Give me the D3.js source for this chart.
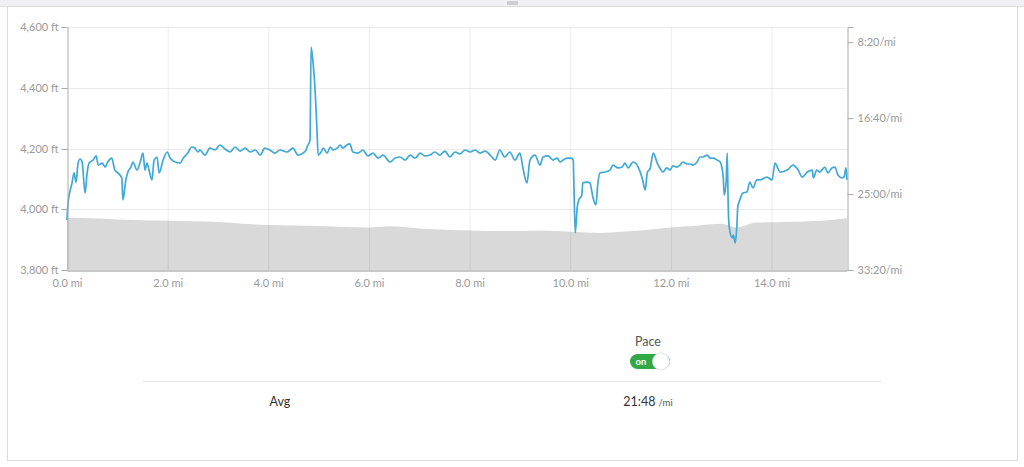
<!DOCTYPE html>
<html><head><meta charset="utf-8">
<script src="https://cdn.jsdelivr.net/npm/d3@7/dist/d3.min.js"></script>
<style>
body{margin:0;background:#fff;}
svg text{font-family:Lato,"Open Sans",sans-serif;}
</style>
</head><body>
<svg id="c" width="1024" height="467"></svg>
<script>
// ---- data ----
const distance = [0.00,0.02,0.10,0.14,0.18,0.22,0.26,0.30,0.36,0.40,0.44,0.52,0.58,0.62,0.70,0.76,0.81,0.89,0.95,1.01,1.09,1.11,1.17,1.21,1.27,1.31,1.39,1.45,1.51,1.55,1.59,1.63,1.69,1.73,1.79,1.83,1.91,1.99,2.05,2.15,2.25,2.31,2.40,2.48,2.54,2.60,2.64,2.74,2.84,2.94,3.04,3.14,3.24,3.34,3.44,3.54,3.64,3.74,3.84,3.93,4.03,4.13,4.23,4.37,4.49,4.59,4.69,4.75,4.77,4.83,4.85,4.89,4.93,4.97,4.99,5.05,5.09,5.17,5.23,5.29,5.37,5.43,5.48,5.56,5.62,5.68,5.78,5.88,5.98,6.08,6.18,6.28,6.42,6.52,6.62,6.72,6.82,6.92,7.02,7.11,7.21,7.31,7.41,7.51,7.61,7.71,7.81,7.91,8.01,8.11,8.21,8.31,8.41,8.51,8.60,8.70,8.80,8.90,9.00,9.06,9.14,9.20,9.30,9.40,9.46,9.56,9.66,9.74,9.80,9.86,9.94,10.02,10.06,10.07,10.10,10.14,10.17,10.23,10.25,10.33,10.39,10.45,10.51,10.55,10.59,10.69,10.79,10.85,10.95,11.03,11.09,11.15,11.25,11.35,11.43,11.49,11.53,11.59,11.65,11.73,11.78,11.84,11.92,11.98,12.04,12.12,12.18,12.24,12.32,12.38,12.44,12.52,12.58,12.64,12.72,12.78,12.84,12.92,12.98,13.04,13.06,13.10,13.12,13.14,13.16,13.22,13.24,13.28,13.31,13.33,13.37,13.43,13.51,13.57,13.63,13.71,13.77,13.91,14.01,14.07,14.17,14.31,14.43,14.53,14.61,14.71,14.81,14.83,14.90,14.96,15.06,15.12,15.20,15.26,15.32,15.40,15.44,15.48,15.50];
const pace = [1671,1559,1427,1361,1421,1296,1269,1289,1493,1361,1296,1276,1249,1309,1296,1322,1289,1263,1342,1361,1394,1539,1407,1355,1322,1289,1342,1296,1230,1342,1296,1342,1407,1276,1256,1361,1276,1223,1263,1289,1296,1263,1230,1190,1197,1223,1210,1243,1197,1210,1177,1203,1223,1190,1217,1197,1223,1210,1243,1197,1210,1230,1210,1223,1197,1243,1230,1210,1190,1144,532,637,815,1098,1243,1223,1197,1230,1190,1210,1197,1177,1197,1177,1170,1223,1230,1210,1249,1230,1263,1243,1289,1263,1256,1276,1243,1263,1230,1249,1243,1223,1243,1217,1256,1223,1236,1210,1223,1210,1230,1217,1243,1276,1210,1256,1223,1276,1230,1328,1427,1276,1243,1309,1256,1249,1276,1263,1289,1276,1263,1263,1276,1394,1756,1585,1539,1506,1427,1421,1427,1519,1572,1427,1361,1355,1342,1309,1328,1322,1296,1328,1289,1322,1394,1473,1361,1328,1230,1296,1328,1355,1328,1342,1315,1322,1309,1289,1302,1302,1309,1289,1256,1256,1243,1263,1263,1276,1289,1388,1506,1407,1230,1585,1717,1789,1770,1822,1717,1585,1539,1493,1486,1421,1460,1407,1407,1388,1407,1296,1355,1342,1309,1342,1388,1355,1342,1394,1342,1355,1322,1361,1328,1322,1375,1394,1388,1328,1407];
const elevDistance = [0,0.5,1,2,3,3.5,4,5,6,6.4,7,8,9,9.4,10,10.6,11,11.5,12,12.5,13,13.3,13.7,14,15,15.5];
const elevation   = [3972,3970,3966,3962,3958,3952,3948,3945,3940,3944,3937,3930,3928,3930,3926,3922,3926,3932,3940,3946,3952,3940,3956,3957,3962,3970];
const distTicks = [0,2,4,6,8,10,12,14];
const elevTicks = [3800,4000,4200,4400,4600];
const paceTicks = [500,1000,1500,2000];
const avgLabel = "Avg";
const avgPace = "21:48";
const toggleLabel = "Pace";

// ---- scales ----
const svg = d3.select("#c");
const x = d3.scaleLinear().domain([0,15.5]).range([67,847]);
const yE = d3.scaleLinear().domain([3800,4600]).range([270,27]);
const yP = d3.scaleLinear().domain([2000,400]).range([270,27]);
const fmtPace = s => Math.floor(s/60)+":"+String(Math.round(s%60)).padStart(2,"0")+"/mi";

// ---- card ----
svg.append("rect").attr("x",0).attr("y",0).attr("width",1024).attr("height",6).attr("fill","#f1f1f5");
svg.append("line").attr("x1",0).attr("x2",1024).attr("y1",6.5).attr("y2",6.5).attr("stroke","#e0e0e6");
svg.append("rect").attr("x",7.5).attr("y",6.5).attr("width",1010).attr("height",454).attr("fill","#fff").attr("stroke","#dcdcdc");
[2,4].forEach(yy=>svg.append("line").attr("x1",507).attr("x2",518).attr("y1",yy).attr("y2",yy).attr("stroke","#999").attr("stroke-width",0.8));

const g = svg.append("g");

// ---- elevation area ----
const elevData = elevDistance.map((d,i)=>({d, e:elevation[i]}));
g.append("path").datum(elevData)
  .attr("d", d3.area().x(p=>x(p.d)).y0(yE(3800)).y1(p=>yE(p.e)).curve(d3.curveMonotoneX))
  .attr("fill","#d9d9d9");

// ---- grid (semi-transparent so it shows over the area too) ----
g.selectAll(".vg").data(distTicks.filter(d=>d>0)).join("line")
  .attr("x1",d=>x(d)+0.5).attr("x2",d=>x(d)+0.5).attr("y1",27).attr("y2",270)
  .attr("stroke","rgba(0,0,0,0.075)");
g.selectAll(".hg").data(elevTicks.filter(d=>d>3800)).join("line")
  .attr("x1",67).attr("x2",847).attr("y1",d=>Math.round(yE(d))+0.5).attr("y2",d=>Math.round(yE(d))+0.5)
  .attr("stroke","rgba(0,0,0,0.075)");

// ---- pace line ----
const paceData = distance.map((d,i)=>({d, p:pace[i]}));
g.append("path").datum(paceData)
  .attr("d", d3.line().x(p=>x(p.d)).y(p=>yP(p.p)).curve(d3.curveMonotoneX))
  .attr("fill","none").attr("stroke","#3ea9d6").attr("stroke-width",1.7).attr("stroke-linejoin","round");

// ---- axes ----
function styleAxis(sel){
  sel.selectAll("text").attr("fill","#999").style("font-size","11px");
  sel.selectAll("line").attr("stroke","#aaa");
  sel.select(".domain").attr("stroke","#aaa");
}
const left = svg.append("g").attr("transform","translate(67.5,0)")
  .call(d3.axisLeft(yE).tickValues(elevTicks).tickFormat(v=>d3.format(",")(v)+" ft").tickSizeInner(6).tickSizeOuter(0).tickPadding(3));
styleAxis(left);
left.selectAll(".tick").attr("transform",d=>`translate(0,${Math.round(yE(d))+0.5})`);
const right = svg.append("g").attr("transform","translate(847.5,0)")
  .call(d3.axisRight(yP).tickValues(paceTicks).tickFormat(fmtPace).tickSizeInner(6).tickSizeOuter(6).tickPadding(4));
styleAxis(right);
const bottom = svg.append("g").attr("transform","translate(0,270.5)")
  .call(d3.axisBottom(x).tickValues(distTicks).tickFormat(v=>d3.format(".1f")(v)+" mi").tickSize(0).tickPadding(9));
styleAxis(bottom);
bottom.select(".domain").attr("stroke","#b5b5b5").attr("stroke-width",1.5);

// ---- toggle ----
svg.append("text").attr("x",648).attr("y",346).attr("text-anchor","middle")
  .attr("fill","#555").style("font-size","12.5px").text(toggleLabel);
svg.append("rect").attr("x",630).attr("y",354).attr("width",40).attr("height",15).attr("rx",7.5)
  .attr("fill","#33a845");
svg.append("text").attr("x",641).attr("y",365).attr("text-anchor","middle")
  .attr("fill","#fff").style("font-size","9.5px").style("font-weight","bold").text("on");
svg.append("circle").attr("cx",661).attr("cy",361.5).attr("r",8.5).attr("fill","#fff")
  .attr("stroke","#ddd").attr("stroke-width",0.8);

// ---- avg row ----
svg.append("line").attr("x1",143).attr("x2",881).attr("y1",381.5).attr("y2",381.5).attr("stroke","#e6e6e6");
svg.append("text").attr("x",280).attr("y",406).attr("text-anchor","middle")
  .attr("fill","#333").style("font-size","12.5px").text(avgLabel);
const av = svg.append("text").attr("x",648).attr("y",406).attr("text-anchor","middle").attr("fill","#333");
av.append("tspan").style("font-size","12.5px").text(avgPace+" ");
av.append("tspan").style("font-size","9.5px").attr("fill","#555").text("/mi");
</script>
</body></html>
